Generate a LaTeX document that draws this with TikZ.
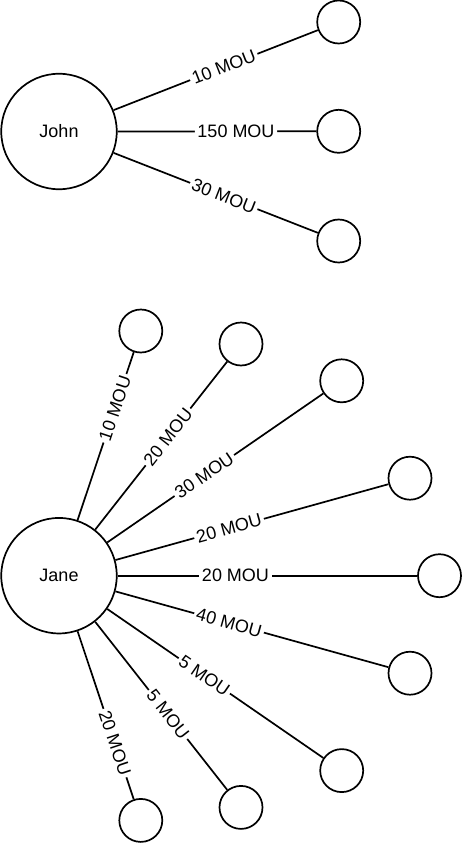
\documentclass[tikz,border=0pt]{standalone}
\usepackage{fontspec}
\setmainfont{Liberation Sans}
\usetikzlibrary{calc}
\begin{document}
\begin{tikzpicture}[x=1pt,y=-1pt,
  big/.style={circle,draw,line width=1.7pt,minimum size=115.5pt,inner sep=0pt,font=\fontsize{18}{20}\selectfont},
  sat/.style={circle,draw,line width=1.7pt,minimum size=43pt,inner sep=0pt},
  edge/.style={line width=1.7pt},
  lbl/.style={fill=white,inner sep=2.5pt,font=\fontsize{18}{20}\selectfont,sloped}]
\useasboundingbox (0,0) rectangle (462,843);
% John
\node[big] (john) at (59,131.5) {John};
\node[sat] (j1) at (338.7,22) {};
\node[sat] (j2) at (338.7,131.3) {};
\node[sat] (j3) at (338.7,241) {};
\foreach \s/\t in {j1/10 MOU, j2/150 MOU, j3/30 MOU}{
  \draw[edge] (john) -- (\s);
  \path (john.center) -- ($(john.center)!354pt!(\s.center)$) node[midway,lbl] {\t};
}
% Jane
\node[big] (jane) at (59,575.7) {Jane};
\node[sat] (s1) at (140.8,331) {};
\node[sat] (s2) at (241,344) {};
\node[sat] (s3) at (341.7,380.8) {};
\node[sat] (s4) at (410,478.2) {};
\node[sat] (s5) at (439.5,575.7) {};
\node[sat] (s6) at (410,673.2) {};
\node[sat] (s7) at (341.7,770.6) {};
\node[sat] (s8) at (241,807.4) {};
\node[sat] (s9) at (140.8,820.4) {};
\foreach \s/\t in {s1/10 MOU, s2/20 MOU, s3/30 MOU, s4/20 MOU, s5/20 MOU, s6/40 MOU, s7/5 MOU, s8/5 MOU, s9/20 MOU}{
  \draw[edge] (jane) -- (\s);
  \path (jane.center) -- ($(jane.center)!353pt!(\s.center)$) node[midway,lbl] {\t};
}
\end{tikzpicture}
\end{document}
